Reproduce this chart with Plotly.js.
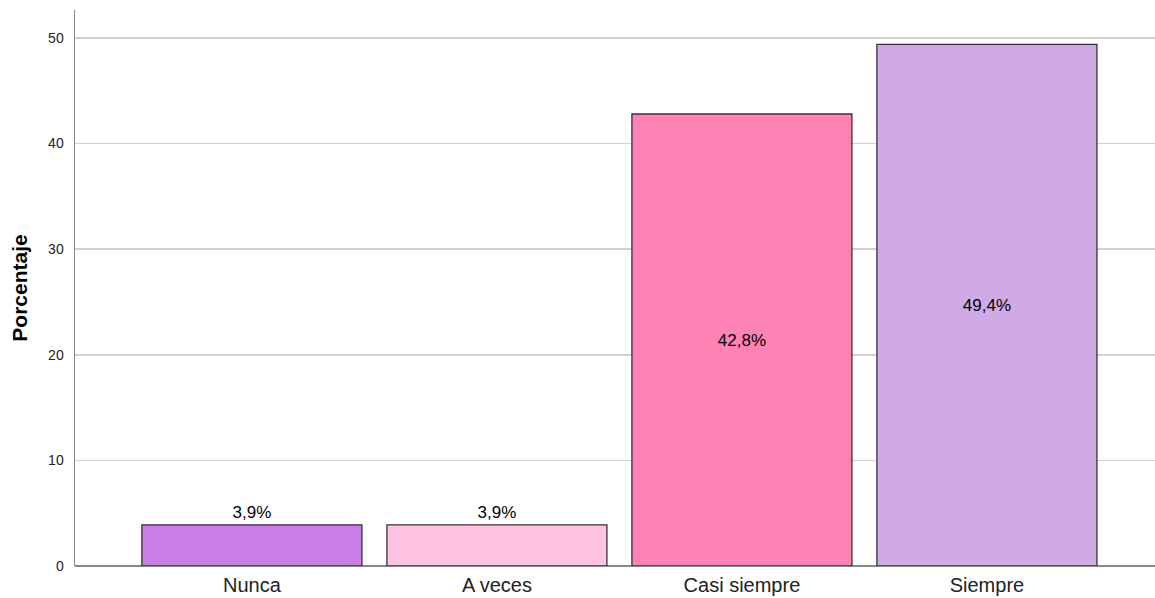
<!DOCTYPE html>
<html>
<head>
<meta charset="utf-8">
<script src="https://cdn.plot.ly/plotly-3.0.1.min.js"></script>
<style>html,body{margin:0;padding:0;background:#fff;overflow:hidden}#chart{width:1155px;height:598px}</style>
</head>
<body>
<div id="chart"></div>
<script>
var categories = ["Nunca", "A veces", "Casi siempre", "Siempre"];
var values = [3.9, 3.9, 42.8, 49.4];
var labels = ["3,9%", "3,9%", "42,8%", "49,4%"];
var colors = ["#C97FE5", "#FEC3E1", "#FF82B4", "#D0AAE4"];
var labelPositions = ["outside", "outside", "inside", "inside"];
var yTicks = [0, 10, 20, 30, 40, 50];

var trace = {
  type: "bar",
  x: categories,
  y: values,
  text: labels,
  textposition: labelPositions,
  insidetextanchor: "middle",
  textfont: {family: "Liberation Sans, Arial, sans-serif", size: 17, color: "#000"},
  outsidetextfont: {family: "Liberation Sans, Arial, sans-serif", size: 17, color: "#000"},
  insidetextfont: {family: "Liberation Sans, Arial, sans-serif", size: 17, color: "#000"},
  cliponaxis: false,
  marker: {color: colors, line: {color: "#333333", width: 1.3}},
  hoverinfo: "none"
};

var layout = {
  width: 1155, height: 598,
  margin: {l: 75, r: 0, t: 10, b: 32, pad: 0},
  paper_bgcolor: "#fff", plot_bgcolor: "#fff",
  bargap: 0.102,
  showlegend: false,
  font: {family: "Liberation Sans, Arial, sans-serif", color: "#000"},
  xaxis: {
    type: "category",
    range: [-0.722, 3.686],
    showgrid: false,
    showline: false,
    zeroline: false,
    ticks: "",
    tickfont: {size: 20, color: "#222"},
    ticklabelstandoff: 5,
    automargin: false
  },
  yaxis: {
    range: [0, 52.65],
    tickvals: yTicks,
    ticktext: yTicks.map(String),
    showgrid: true,
    gridcolor: "#d0d0d0",
    gridwidth: 1.6,
    showline: true,
    linecolor: "#888888",
    linewidth: 1.5,
    zeroline: true,
    zerolinecolor: "#888888",
    zerolinewidth: 1.5,
    ticks: "",
    ticklabelstandoff: 7,
    tickfont: {size: 14, color: "#222"},
    automargin: false,
    title: {text: "Porcentaje", font: {size: 21, color: "#000", weight: "bold"}, standoff: 15}
  }
};

Plotly.newPlot("chart", [trace], layout, {staticPlot: true, displayModeBar: false});
</script>
</body>
</html>
